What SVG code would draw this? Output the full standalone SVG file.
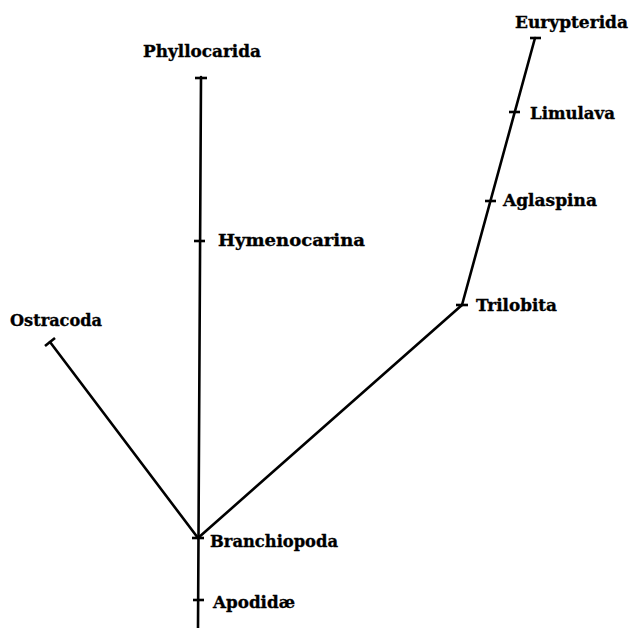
<svg xmlns="http://www.w3.org/2000/svg" width="630" height="628" viewBox="0 0 630 628">
<style>
.ln{stroke:#000;stroke-width:2.6;fill:none;stroke-linecap:round}
.tk{stroke:#000;stroke-width:2.6;fill:none}
.lb{font-family:"DejaVu Serif","Liberation Serif",serif;font-weight:bold;font-size:17px;fill:#000;stroke:#000;stroke-width:0.35}
</style>
<rect width="630" height="628" fill="#fff"/>
<g id="connectors">
<line class="ln" x1="201" y1="77" x2="198" y2="628"/>
<line class="ln" x1="50" y1="342" x2="198" y2="538"/>
<line class="ln" x1="198" y1="538" x2="462" y2="305"/>
<line class="ln" x1="462" y1="305" x2="535" y2="38"/>
</g>
<g id="phyllocarida"><line class="tk" x1="195" y1="78" x2="207" y2="78"/><text class="lb" x="143" y="57" textLength="118" lengthAdjust="spacingAndGlyphs">Phyllocarida</text></g>
<g id="hymenocarina"><line class="tk" x1="194" y1="241" x2="205" y2="241"/><text class="lb" x="218" y="246" textLength="147" lengthAdjust="spacingAndGlyphs">Hymenocarina</text></g>
<g id="ostracoda"><line class="tk" x1="45" y1="346" x2="55" y2="338"/><text class="lb" x="10" y="326" textLength="92" lengthAdjust="spacingAndGlyphs">Ostracoda</text></g>
<g id="eurypterida"><line class="tk" x1="530" y1="38" x2="541" y2="38"/><text class="lb" x="515" y="28" textLength="113" lengthAdjust="spacingAndGlyphs">Eurypterida</text></g>
<g id="limulava"><line class="tk" x1="509" y1="112" x2="520" y2="112"/><text class="lb" x="530" y="119" textLength="85" lengthAdjust="spacingAndGlyphs">Limulava</text></g>
<g id="aglaspina"><line class="tk" x1="485" y1="201" x2="496" y2="201"/><text class="lb" x="503" y="206" textLength="94" lengthAdjust="spacingAndGlyphs">Aglaspina</text></g>
<g id="trilobita"><line class="tk" x1="456" y1="305" x2="468" y2="305"/><text class="lb" x="476" y="311" textLength="81" lengthAdjust="spacingAndGlyphs">Trilobita</text></g>
<g id="branchiopoda"><line class="tk" x1="192" y1="538" x2="204" y2="538"/><text class="lb" x="210" y="547" textLength="128" lengthAdjust="spacingAndGlyphs">Branchiopoda</text></g>
<g id="apodidae"><line class="tk" x1="193" y1="600" x2="204" y2="600"/><text class="lb" x="213" y="608" textLength="82" lengthAdjust="spacingAndGlyphs">Apodidæ</text></g>
</svg>
